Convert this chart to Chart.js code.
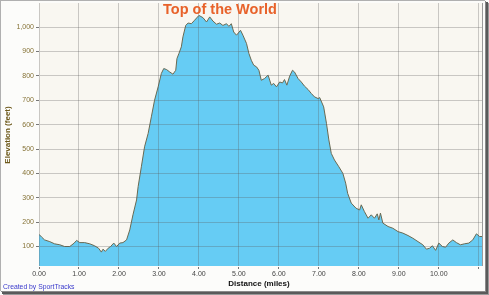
<!DOCTYPE html>
<html>
<head>
<meta charset="utf-8">
<script src="https://cdn.jsdelivr.net/npm/chart.js@4/dist/chart.umd.min.js"></script>
<style>
  html, body { margin: 0; padding: 0; background: #fff; }
  canvas { display: block; }
</style>
</head>
<body>
<canvas id="elev" width="489" height="295"></canvas>
<script>
// distance along the route (miles) and elevation (feet)
const miles = [0.00, 0.07, 0.14, 0.27, 0.39, 0.52, 0.64, 0.77, 0.88, 0.94,
  1.02, 1.14, 1.27, 1.39, 1.49, 1.56, 1.60, 1.66, 1.73, 1.79, 1.87, 1.94,
  2.02, 2.10, 2.19, 2.27, 2.35, 2.44, 2.48, 2.56, 2.64, 2.73, 2.81, 2.89, 2.98,
  3.06, 3.12, 3.19, 3.27, 3.35, 3.42, 3.45, 3.50, 3.56, 3.60, 3.67, 3.73, 3.81, 3.89,
  4.00, 4.10, 4.19, 4.27, 4.35, 4.44, 4.52, 4.60, 4.69, 4.75, 4.81, 4.87, 4.94,
  5.04, 5.10, 5.19, 5.25, 5.31, 5.37, 5.44, 5.50, 5.56, 5.64, 5.73, 5.81, 5.87, 5.94,
  6.02, 6.09, 6.14, 6.20, 6.27, 6.34, 6.39, 6.48, 6.56, 6.64, 6.73, 6.81, 6.89, 6.98,
  7.02, 7.12, 7.19, 7.25, 7.31, 7.39, 7.50, 7.60, 7.67, 7.72, 7.81, 7.93,
  8.02, 8.06, 8.14, 8.23, 8.31, 8.39, 8.46, 8.50, 8.54, 8.60, 8.73, 8.85, 8.98,
  9.10, 9.23, 9.35, 9.48, 9.60, 9.69, 9.77, 9.84, 9.92,
  10.00, 10.09, 10.17, 10.25, 10.35, 10.44, 10.54, 10.64, 10.75, 10.85, 10.94,
  11.02, 11.08];
const feet = [150, 138, 127, 120, 111, 107, 100, 100, 114, 125,
  116, 116, 111, 103, 93, 77, 89, 80, 93, 100, 114, 100,
  114, 116, 127, 168, 230, 291, 346, 427, 509, 564, 632, 700, 755,
  810, 830, 826, 816, 807, 823, 871, 892, 919, 960, 1007, 1017, 1014, 1028,
  1048, 1039, 1021, 1042, 1025, 1012, 1017, 1007, 1014, 1003, 1014, 980, 967,
  987, 967, 933, 892, 864, 844, 837, 823, 782, 789, 803, 762, 769, 755,
  775, 771, 785, 762, 799, 823, 816, 789, 775, 758, 744, 728, 714, 707,
  711, 673, 605, 537, 482, 455, 427, 400, 360, 318, 278, 257,
  250, 271, 243, 216, 230, 216, 234, 209, 237, 196, 182, 175, 161,
  155, 145, 134, 120, 107, 89, 93, 103, 84,
  114, 100, 97, 114, 127, 116, 107, 111, 114, 127, 152,
  141, 141];

const chartTitle = 'Top of the World';
const xTitle = 'Distance (miles)';
const yTitle = 'Elevation (feet)';
const credit = 'Created by SportTracks';

const xRange = [0, 11.08];
const yRange = [20, 1099];
const xStep = 1;
const yStep = 100;
const lastXLabel = 10;

const points = miles.map((m, i) => ({ x: m, y: feet[i] }));

const decor = {
  id: 'decor',
  beforeDraw(chart) {
    const { ctx, chartArea: a } = chart;
    ctx.save();
    ctx.fillStyle = '#fcfcfa';
    ctx.fillRect(0, 0, chart.width, chart.height);
    ctx.fillStyle = '#f9f7f1';
    ctx.fillRect(a.left, a.top, a.right - a.left, a.bottom - a.top);
    ctx.restore();
  },
  afterDraw(chart) {
    const { ctx, chartArea: a } = chart;
    ctx.save();
    // right edge of plot
    ctx.strokeStyle = '#9a9a9a';
    ctx.lineWidth = 1;
    ctx.beginPath();
    ctx.moveTo(a.right + 0.5, a.top);
    ctx.lineTo(a.right + 0.5, a.bottom);
    ctx.stroke();

    ctx.fillStyle = '#e8622a';
    ctx.font = 'bold 14.5px "Liberation Sans", Arial, sans-serif';
    ctx.textAlign = 'center';
    ctx.textBaseline = 'alphabetic';
    ctx.fillText(chartTitle, 220, 13.5);

    ctx.fillStyle = '#111';
    ctx.font = 'bold 8px "Liberation Sans", Arial, sans-serif';
    ctx.fillText(xTitle, 259, 286);

    ctx.fillStyle = '#3a3acc';
    ctx.font = '6.8px "Liberation Sans", Arial, sans-serif';
    ctx.textAlign = 'left';
    ctx.fillText(credit, 3, 289);

    ctx.translate(10, 135);
    ctx.rotate(-Math.PI / 2);
    ctx.fillStyle = '#6e5a1c';
    ctx.font = 'bold 8px "Liberation Sans", Arial, sans-serif';
    ctx.textAlign = 'center';
    ctx.fillText(yTitle, 0, 0);
    ctx.setTransform(1, 0, 0, 1, 0, 0);

    // picture frame
    ctx.fillStyle = '#b0b0b0';
    ctx.fillRect(0, 0, chart.width - 4, 1);
    ctx.fillRect(0, 0, 1, chart.height - 4);
    ctx.fillStyle = '#8a8a8a';
    ctx.fillRect(chart.width - 4, 1, 1, chart.height - 4);
    ctx.fillRect(1, chart.height - 4, chart.width - 4, 1);
    ctx.fillStyle = '#5a5a5a';
    ctx.fillRect(chart.width - 3, 2, 2, chart.height - 3);
    ctx.fillRect(2, chart.height - 3, chart.width - 3, 2);
    ctx.fillStyle = '#9a9a9a';
    ctx.fillRect(chart.width - 1, 3, 1, chart.height - 3);
    ctx.fillRect(3, chart.height - 1, chart.width - 3, 1);
    ctx.restore();
  }
};

new Chart(document.getElementById('elev'), {
  type: 'line',
  data: {
    datasets: [{
      data: points,
      fill: 'start',
      backgroundColor: '#66ccf4',
      borderColor: '#6a6a52',
      borderWidth: 1,
      pointRadius: 0,
      tension: 0
    }]
  },
  options: {
    responsive: false,
    devicePixelRatio: 1,
    animation: false,
    layout: { padding: { top: 3, right: 7, left: 0, bottom: 0 } },
    plugins: { legend: { display: false }, tooltip: { enabled: false } },
    scales: {
      x: {
        type: 'linear',
        min: xRange[0],
        max: xRange[1],
        border: { color: '#555', width: 1 },
        grid: { color: 'rgba(90,90,90,0.3)', z: 1, drawTicks: true, tickLength: 3, tickColor: '#777' },
        ticks: {
          stepSize: xStep,
          includeBounds: false,
          autoSkip: false,
          maxRotation: 0,
          padding: 1,
          color: '#444',
          font: { family: '"Liberation Sans", Arial, sans-serif', size: 7 },
          callback: v => v <= lastXLabel ? v.toFixed(2) : ''
        },
        afterFit(s) { s.height = 29; s.paddingLeft = 0; s.paddingRight = 0; }
      },
      y: {
        min: yRange[0],
        max: yRange[1],
        border: { color: '#555', width: 1 },
        grid: { color: 'rgba(90,90,90,0.3)', z: 1, drawTicks: true, tickLength: 3, tickColor: '#777' },
        ticks: {
          stepSize: yStep,
          includeBounds: false,
          padding: 2,
          color: '#857236',
          font: { family: '"Liberation Sans", Arial, sans-serif', size: 7 },
          callback: v => v.toLocaleString('en-US')
        },
        afterFit(s) { s.width = 39; s.paddingTop = 0; s.paddingBottom = 0; }
      }
    }
  },
  plugins: [decor]
});
</script>
</body>
</html>
